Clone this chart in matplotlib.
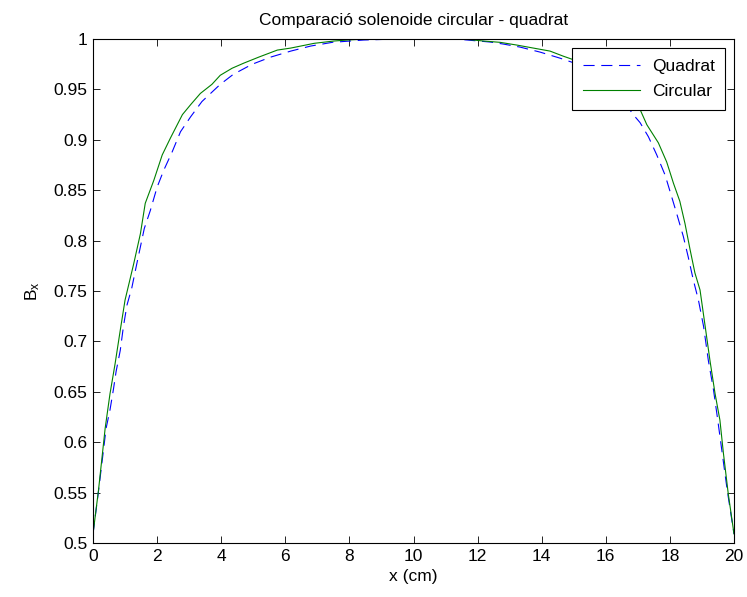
import matplotlib
matplotlib.use("Agg")
import matplotlib.pyplot as plt
from matplotlib.ticker import FormatStrFormatter

plt.rcParams["font.family"] = ["Liberation Sans", "DejaVu Sans"]
plt.rcParams["mathtext.fontset"] = "custom"
plt.rcParams["mathtext.rm"] = "Liberation Sans"
plt.rcParams["mathtext.it"] = "Liberation Sans"

# values
x_quadrat = [0, 0.17, 0.41, 0.53, 0.64, 0.72, 0.85, 0.95, 1.06, 1.21, 1.34, 1.48,
             1.6, 1.79, 2.0, 2.21, 2.47, 2.73, 3.05, 3.4, 3.97, 4.38, 4.97, 5.54,
             6.17, 6.79, 7.47, 8.45, 9.5, 10.5, 11.5, 12.02, 12.39, 12.8, 13.32,
             13.95, 14.57, 14.94, 15.5, 16.0, 16.5, 16.91, 17.07, 17.33, 17.59,
             17.85, 18.05, 18.21, 18.42, 18.57, 18.73, 18.89, 19.05, 19.2, 19.36,
             19.48, 19.62, 19.79, 20.0]
b_quadrat = [0.509, 0.551, 0.614, 0.632, 0.653, 0.67, 0.691, 0.715, 0.736, 0.753,
             0.773, 0.794, 0.812, 0.83, 0.853, 0.87, 0.888, 0.908, 0.923, 0.938,
             0.955, 0.965, 0.975, 0.982, 0.988, 0.993, 0.9967, 0.999, 1.0, 1.0,
             0.9995, 0.998, 0.997, 0.995, 0.992, 0.987, 0.981, 0.977, 0.968,
             0.957, 0.94, 0.923, 0.917, 0.903, 0.885, 0.865, 0.844, 0.827, 0.804,
             0.784, 0.761, 0.741, 0.715, 0.681, 0.652, 0.625, 0.592, 0.552, 0.509]

x_circular = [0, 0.17, 0.38, 0.53, 0.69, 0.85, 1.0, 1.27, 1.48, 1.63, 1.9, 2.16,
              2.42, 2.79, 3.05, 3.35, 3.71, 3.97, 4.34, 4.7, 5.17, 5.75, 6.17, 6.9,
              7.52, 7.94, 8.57, 9.5, 10.5, 11.56, 12.18, 12.7, 13.22, 13.74, 14.26,
              14.67, 14.94, 15.5, 16.0, 16.5, 17.07, 17.28, 17.64, 17.9, 18.11,
              18.31, 18.47, 18.63, 18.78, 18.94, 19.1, 19.25, 19.41, 19.56, 19.67,
              19.82, 20.0]
b_circular = [0.509, 0.552, 0.614, 0.648, 0.678, 0.711, 0.741, 0.777, 0.807, 0.837,
              0.86, 0.885, 0.902, 0.925, 0.935, 0.946, 0.955, 0.964, 0.971, 0.976,
              0.982, 0.989, 0.991, 0.9957, 0.998, 0.999, 1.0, 1.0, 1.0, 1.0, 0.998,
              0.9967, 0.994, 0.991, 0.988, 0.983, 0.98, 0.972, 0.962, 0.948, 0.93,
              0.915, 0.897, 0.878, 0.857, 0.839, 0.817, 0.791, 0.768, 0.751, 0.715,
              0.681, 0.648, 0.622, 0.589, 0.549, 0.509]

x_ticks = list(range(0, 21, 2))
y_ticks = [0.5, 0.55, 0.6, 0.65, 0.7, 0.75, 0.8, 0.85, 0.9, 0.95, 1.0]

fs = 12.5

fig = plt.figure(figsize=(7.47, 5.97), dpi=100)
ax = fig.add_axes([93 / 747, 1 - 543 / 597, 641 / 747, 504 / 597])

ax.plot(x_quadrat, b_quadrat, color="blue", lw=0.8, dashes=(10, 6), label="Quadrat")
ax.plot(x_circular, b_circular, color=(0, 0.5, 0), lw=0.8, label="Circular")

ax.set_xlim(0, 20)
ax.set_ylim(0.5, 1)
ax.set_xticks(x_ticks)
ax.set_yticks(y_ticks)
ax.yaxis.set_major_formatter(FormatStrFormatter("%g"))
ax.tick_params(direction="in", top=True, right=True, length=5, width=0.6,
               labelsize=fs, pad=4)
for s in ax.spines.values():
    s.set_linewidth(0.8)

ax.set_title("Comparació solenoide circular - quadrat", fontsize=fs, pad=10)
ax.set_xlabel("x (cm)", fontsize=fs, labelpad=4)
ax.set_ylabel(r"$\mathregular{B_x}$", fontsize=fs, labelpad=8)

leg = ax.legend(loc="upper right", fontsize=fs, fancybox=False, framealpha=1,
                edgecolor="black", handlelength=3.3, borderaxespad=0.5,
                borderpad=0.62, labelspacing=0.6, handletextpad=0.68)
leg.get_frame().set_linewidth(0.8)

fig.savefig("out.png", dpi=100)
